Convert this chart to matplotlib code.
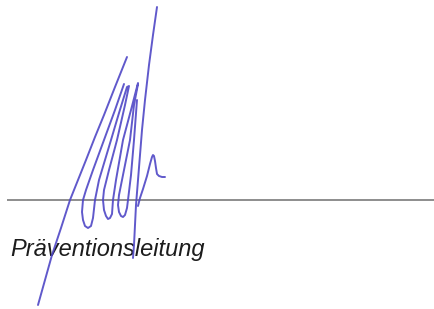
import matplotlib
matplotlib.use("Agg")
import matplotlib.pyplot as plt

# --- data (image pixel coordinates, y downwards) ---
label_text = "Präventionsleitung"
label_pos = (10, 256)

rule_x = [7, 435]
rule_y = [200, 200]

stroke_a_x = [38, 45, 52, 61, 70, 78, 86, 95, 104, 115, 127]
stroke_a_y = [305, 280, 255, 228, 200, 180, 160, 137, 115, 87, 57]

loops_x = [124, 115, 104, 93, 86, 83, 82, 83, 85, 88, 91, 93, 95, 99, 105, 111,
           119, 127, 129,
           125, 117, 109, 104, 103, 104, 106, 108, 110, 112, 113, 116, 123,
           131, 138, 138,
           134, 130, 124, 119, 118, 119, 121, 123, 125, 127, 128, 131, 134, 137]
loops_y = [84, 110, 140, 170, 190, 200, 212, 220, 226, 228, 226, 218, 200, 180, 160, 140,
           113, 87, 86,
           105, 140, 170, 190, 200, 210, 216, 219, 218, 214, 200, 180, 140,
           110, 83, 84,
           105, 140, 170, 195, 205, 212, 216, 217, 215, 208, 200, 175, 140, 100]

stroke_tall_x = [157, 153, 149, 145, 142, 140, 138, 136, 135, 134, 133]
stroke_tall_y = [7, 35, 65, 100, 130, 155, 180, 205, 225, 245, 258]

hook_x = [138, 140, 143, 147, 150, 152, 153, 154, 155, 156, 157, 159, 162, 165]
hook_y = [206, 198, 189, 176, 164, 157, 155, 156, 161, 168, 174, 176, 177, 177]

W, H = 435, 309
fig = plt.figure(figsize=(W / 100, H / 100), dpi=100)
ax = fig.add_axes([0, 0, 1, 1])
ax.set_xlim(0, W)
ax.set_ylim(H, 0)
ax.axis("off")
fig.patch.set_facecolor("white")

ax.plot(rule_x, rule_y, color="#7a7a7a", lw=1.2, solid_capstyle="butt", zorder=1)
ax.text(label_pos[0], label_pos[1], label_text, fontsize=17, style="italic",
        family=["Liberation Sans", "DejaVu Sans"], color="#1c1c1c",
        ha="left", va="baseline", zorder=2)

sig_color = "#4f47c6"
for xs, ys in [(stroke_a_x, stroke_a_y), (loops_x, loops_y),
               (stroke_tall_x, stroke_tall_y), (hook_x, hook_y)]:
    ax.plot(xs, ys, color=sig_color, lw=1.4, alpha=0.9,
            solid_joinstyle="round", solid_capstyle="round", zorder=3)

fig.savefig("out.png", dpi=100, facecolor="white")
